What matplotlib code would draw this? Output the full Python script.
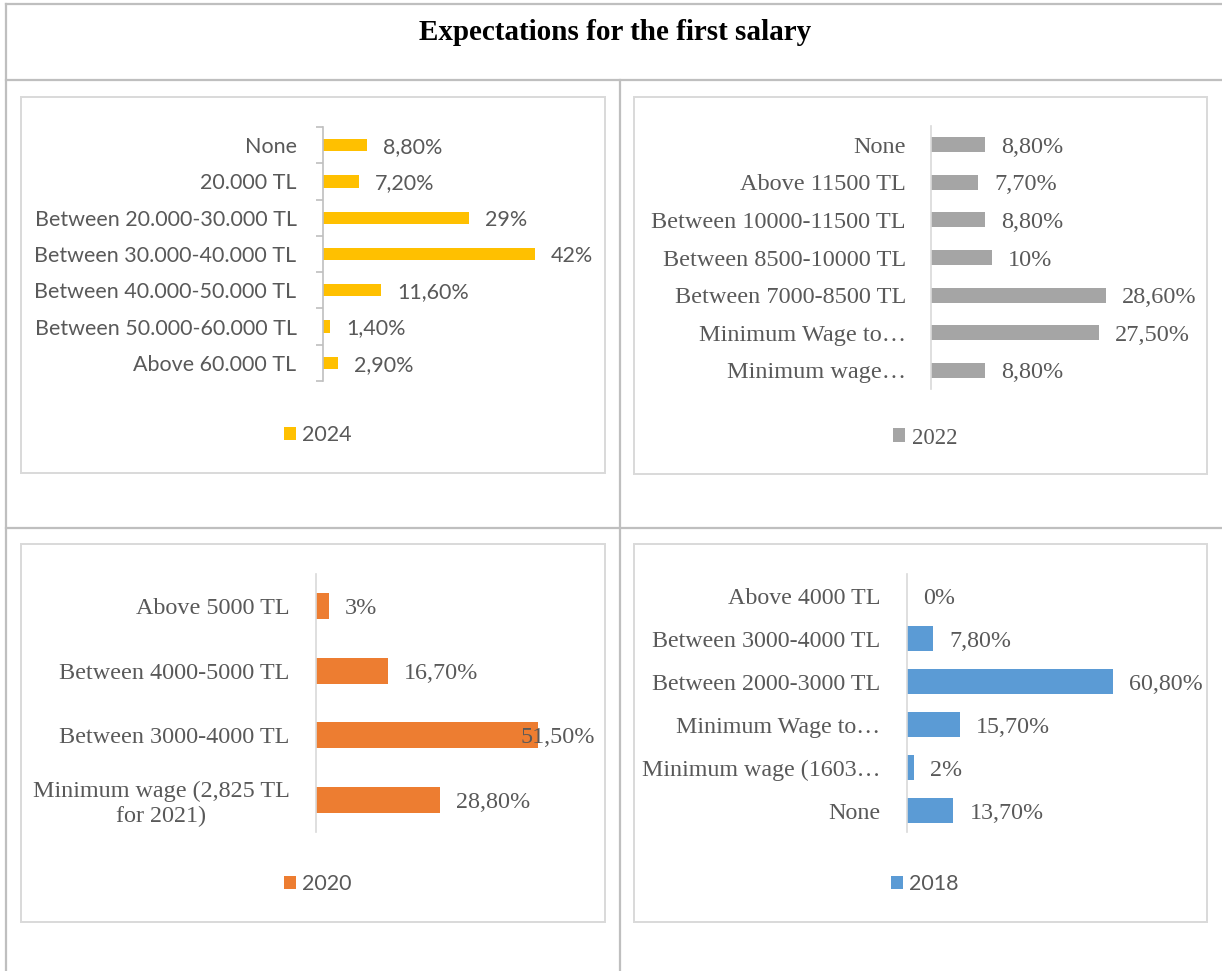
import matplotlib
matplotlib.use("Agg")
import matplotlib.pyplot as plt
from matplotlib.lines import Line2D
from matplotlib.patches import Rectangle

W, H = 1222, 971
SERIF = "Liberation Serif"
SANS = "Lato"
TXT = "#595959"

# data, listed top to bottom as in the chart
cats_2024 = ["None", "20.000 TL", "Between 20.000-30.000 TL", "Between 30.000-40.000 TL",
             "Between 40.000-50.000 TL", "Between 50.000-60.000 TL", "Above 60.000 TL"]
vals_2024 = [8.8, 7.2, 29, 42, 11.6, 1.4, 2.9]

cats_2022 = ["None", "Above 11500 TL", "Between 10000-11500 TL", "Between 8500-10000 TL",
             "Between 7000-8500 TL", "Minimum Wage to\u2026", "Minimum wage\u2026"]
vals_2022 = [8.8, 7.7, 8.8, 10, 28.6, 27.5, 8.8]

cats_2020 = ["Above 5000 TL", "Between 4000-5000 TL", "Between 3000-4000 TL",
             "Minimum wage (2,825 TL\nfor 2021)"]
vals_2020 = [3, 16.7, 51.5, 28.8]

cats_2018 = ["Above 4000 TL", "Between 3000-4000 TL", "Between 2000-3000 TL",
             "Minimum Wage to\u2026", "Minimum wage (1603\u2026", "None"]
vals_2018 = [0, 7.8, 60.8, 15.7, 2, 13.7]


def fx(x):
    return x / W


def fy(y):
    return 1 - y / H


def pct(v):
    if float(v).is_integer():
        return "%d%%" % v
    return ("%.2f%%" % v).replace(".", ",")


def panel(x0, y_top, y_bot, px_per, xmax, cats, vals, color, year, bar_h,
          font, fsize, lab_pad, leg_xy, leg_font, leg_size, ticks=False, clamp_max=False):
    width = xmax * px_per
    ax = fig.add_axes([fx(x0), fy(y_bot), width / W, (y_bot - y_top) / H])
    n = len(cats)
    ypos = list(range(n))
    ax.barh(ypos, vals, height=bar_h, color=color, label=year)
    ax.set_xlim(0, xmax)
    ax.set_ylim(n - 0.5, -0.5)
    ax.set_xticks([])
    ax.set_yticks(ypos)
    ax.set_yticklabels(cats, fontfamily=font, fontsize=fsize, color=TXT, ma="center")
    ax.tick_params(axis="y", length=0, pad=lab_pad)
    if ticks:
        ax.set_yticks([i - 0.5 for i in range(n + 1)], minor=True)
        ax.tick_params(axis="y", which="minor", length=5, width=1.2, color="#BFBFBF",
                       direction="out")
    for s in ["top", "right", "bottom"]:
        ax.spines[s].set_visible(False)
    ax.spines["left"].set_color("#BFBFBF" if ticks else "#D9D9D9")
    ax.spines["left"].set_linewidth(1.2)
    ax.patch.set_alpha(0)
    for i, v in enumerate(vals):
        if clamp_max and v == max(vals):
            ax.annotate(pct(v), xy=(1.0, i), xycoords=("axes fraction", "data"),
                        ha="right", va="center_baseline", fontfamily=font, fontsize=fsize,
                        color=TXT)
        else:
            ax.annotate(pct(v), xy=(v, i), xytext=(11.5, 0), textcoords="offset points",
                        ha="left", va="center_baseline", fontfamily=font, fontsize=fsize,
                        color=TXT)
    ax.legend(loc="center", bbox_to_anchor=(fx(leg_xy[0]), fy(leg_xy[1])),
              bbox_transform=fig.transFigure, frameon=False, handlelength=0.55,
              handleheight=0.55, handletextpad=0.3,
              prop={"family": leg_font, "size": leg_size}, labelcolor=TXT)
    return ax


fig = plt.figure(figsize=(W / 100, H / 100), dpi=100)
fig.patch.set_facecolor("white")

# table grid
grid = "#BFBFBF"
for (xa, ya, xb, yb) in [(6, 4, W, 4), (6, 80, W, 80), (6, 528, W, 528),
                         (6, 4, 6, H), (620, 80, 620, H)]:
    fig.add_artist(Line2D([fx(xa), fx(xb)], [fy(ya), fy(yb)], color=grid, lw=1.6))

# chart frames
for (xa, ya, xb, yb) in [(21, 97, 605, 473), (634, 97, 1207, 474),
                         (21, 544, 605, 922), (634, 544, 1207, 922)]:
    fig.add_artist(Rectangle((fx(xa), fy(yb)), (xb - xa) / W, (yb - ya) / H,
                             fill=False, edgecolor="#D9D9D9", lw=1.4))

fig.text(fx(615), fy(29), "Expectations for the first salary", ha="center",
         va="center_baseline", fontfamily=SERIF, fontweight="bold", fontsize=21,
         color="black")

panel(323, 127, 381, 5.04, 50, cats_2024, vals_2024, "#FFC000", "2024", 0.34,
      SANS, 15.5, 19, (318, 435), SANS, 15.5, ticks=True)
panel(931, 126, 389, 6.12, 40, cats_2022, vals_2022, "#A5A5A5", "2022", 0.4,
      SERIF, 17.5, 18, (925, 438), SERIF, 16.5)
panel(316, 574, 832, 4.31, 64.7, cats_2020, vals_2020, "#ED7D31", "2020", 0.4,
      SERIF, 17.4, 19, (318, 884), SANS, 15.5, clamp_max=True)
panel(907, 574, 832, 3.39, 80, cats_2018, vals_2018, "#5B9BD5", "2018", 0.56,
      SERIF, 17.3, 19, (925, 884), SANS, 15.5)

fig.savefig("out.png", dpi=100)
